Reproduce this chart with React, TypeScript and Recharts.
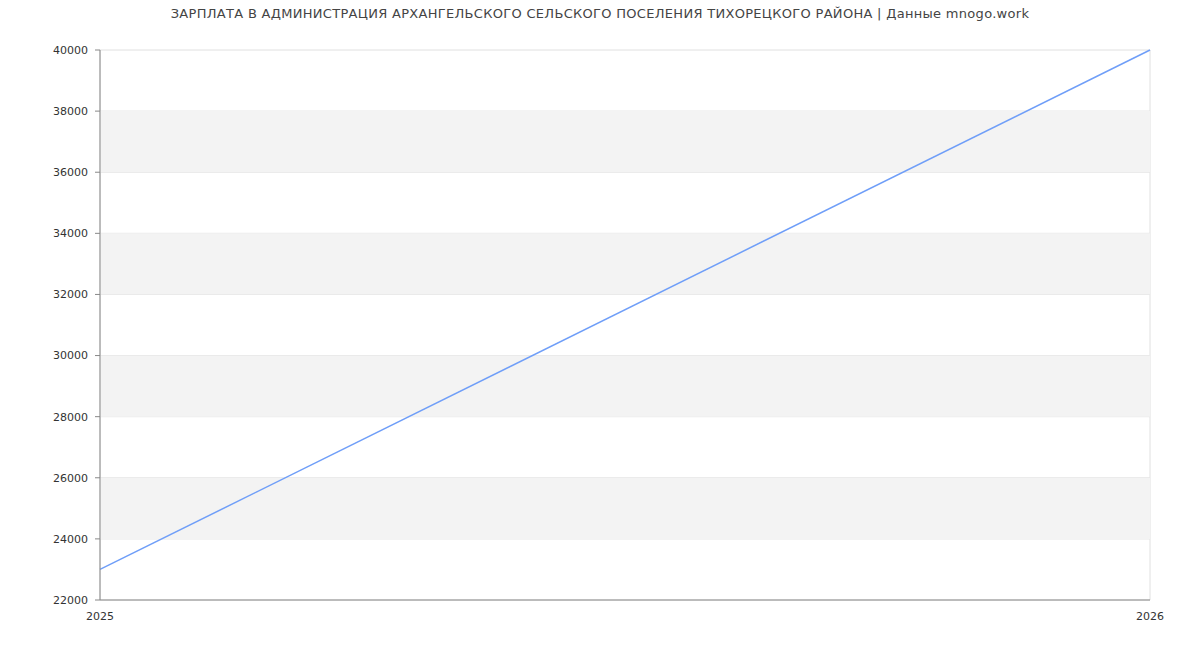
import React from "react";
import { LineChart, Line, XAxis, YAxis, CartesianGrid, ReferenceArea } from "recharts";

const title = "ЗАРПЛАТА В АДМИНИСТРАЦИЯ АРХАНГЕЛЬСКОГО СЕЛЬСКОГО ПОСЕЛЕНИЯ ТИХОРЕЦКОГО РАЙОНА | Данные mnogo.work";
const years = [2025, 2026];
const salary = [23000, 40000];
const yTicks = [22000, 24000, 26000, 28000, 30000, 32000, 34000, 36000, 38000, 40000];
const bandStarts = [24000, 28000, 32000, 36000];
const bandSize = 2000;

const data = years.map((y, i) => ({ year: y, value: salary[i] }));

export default function App() {
  return (
    <div style={{ position: "absolute", left: 0, top: 0, width: 1200, height: 650, background: "#fff", fontFamily: "DejaVu Sans, sans-serif" }}>
      <div style={{ position: "absolute", top: 6, left: 0, width: 1200, textAlign: "center", fontSize: 13, letterSpacing: 0.3, color: "#444" }}>{title}</div>
      <LineChart width={1200} height={650} data={data} margin={{ top: 50, right: 50, left: 0, bottom: 0 }}>
        {bandStarts.map((b) => (
          <ReferenceArea key={b} y1={b} y2={b + bandSize} fill="#f3f3f3" fillOpacity={1} stroke="none" ifOverflow="visible" />
        ))}
        <CartesianGrid stroke="#e0e0e0" vertical={true} horizontal={true} />
        <XAxis
          dataKey="year"
          type="number"
          domain={[2025, 2026]}
          ticks={years}
          height={50}
          tickLine={false}
          axisLine={{ stroke: "#888" }}
          tick={{ fill: "#333", fontSize: 11 }}
          tickMargin={6}
        />
        <YAxis
          type="number"
          domain={[22000, 40000]}
          ticks={yTicks}
          width={100}
          tickSize={5}
          tickMargin={7}
          tickLine={{ stroke: "#888" }}
          axisLine={{ stroke: "#888" }}
          tick={{ fill: "#333", fontSize: 11 }}
          interval={0}
        />
        <Line type="linear" dataKey="value" stroke="#6f9ef8" strokeWidth={1.5} dot={false} isAnimationActive={false} />
      </LineChart>
    </div>
  );
}
